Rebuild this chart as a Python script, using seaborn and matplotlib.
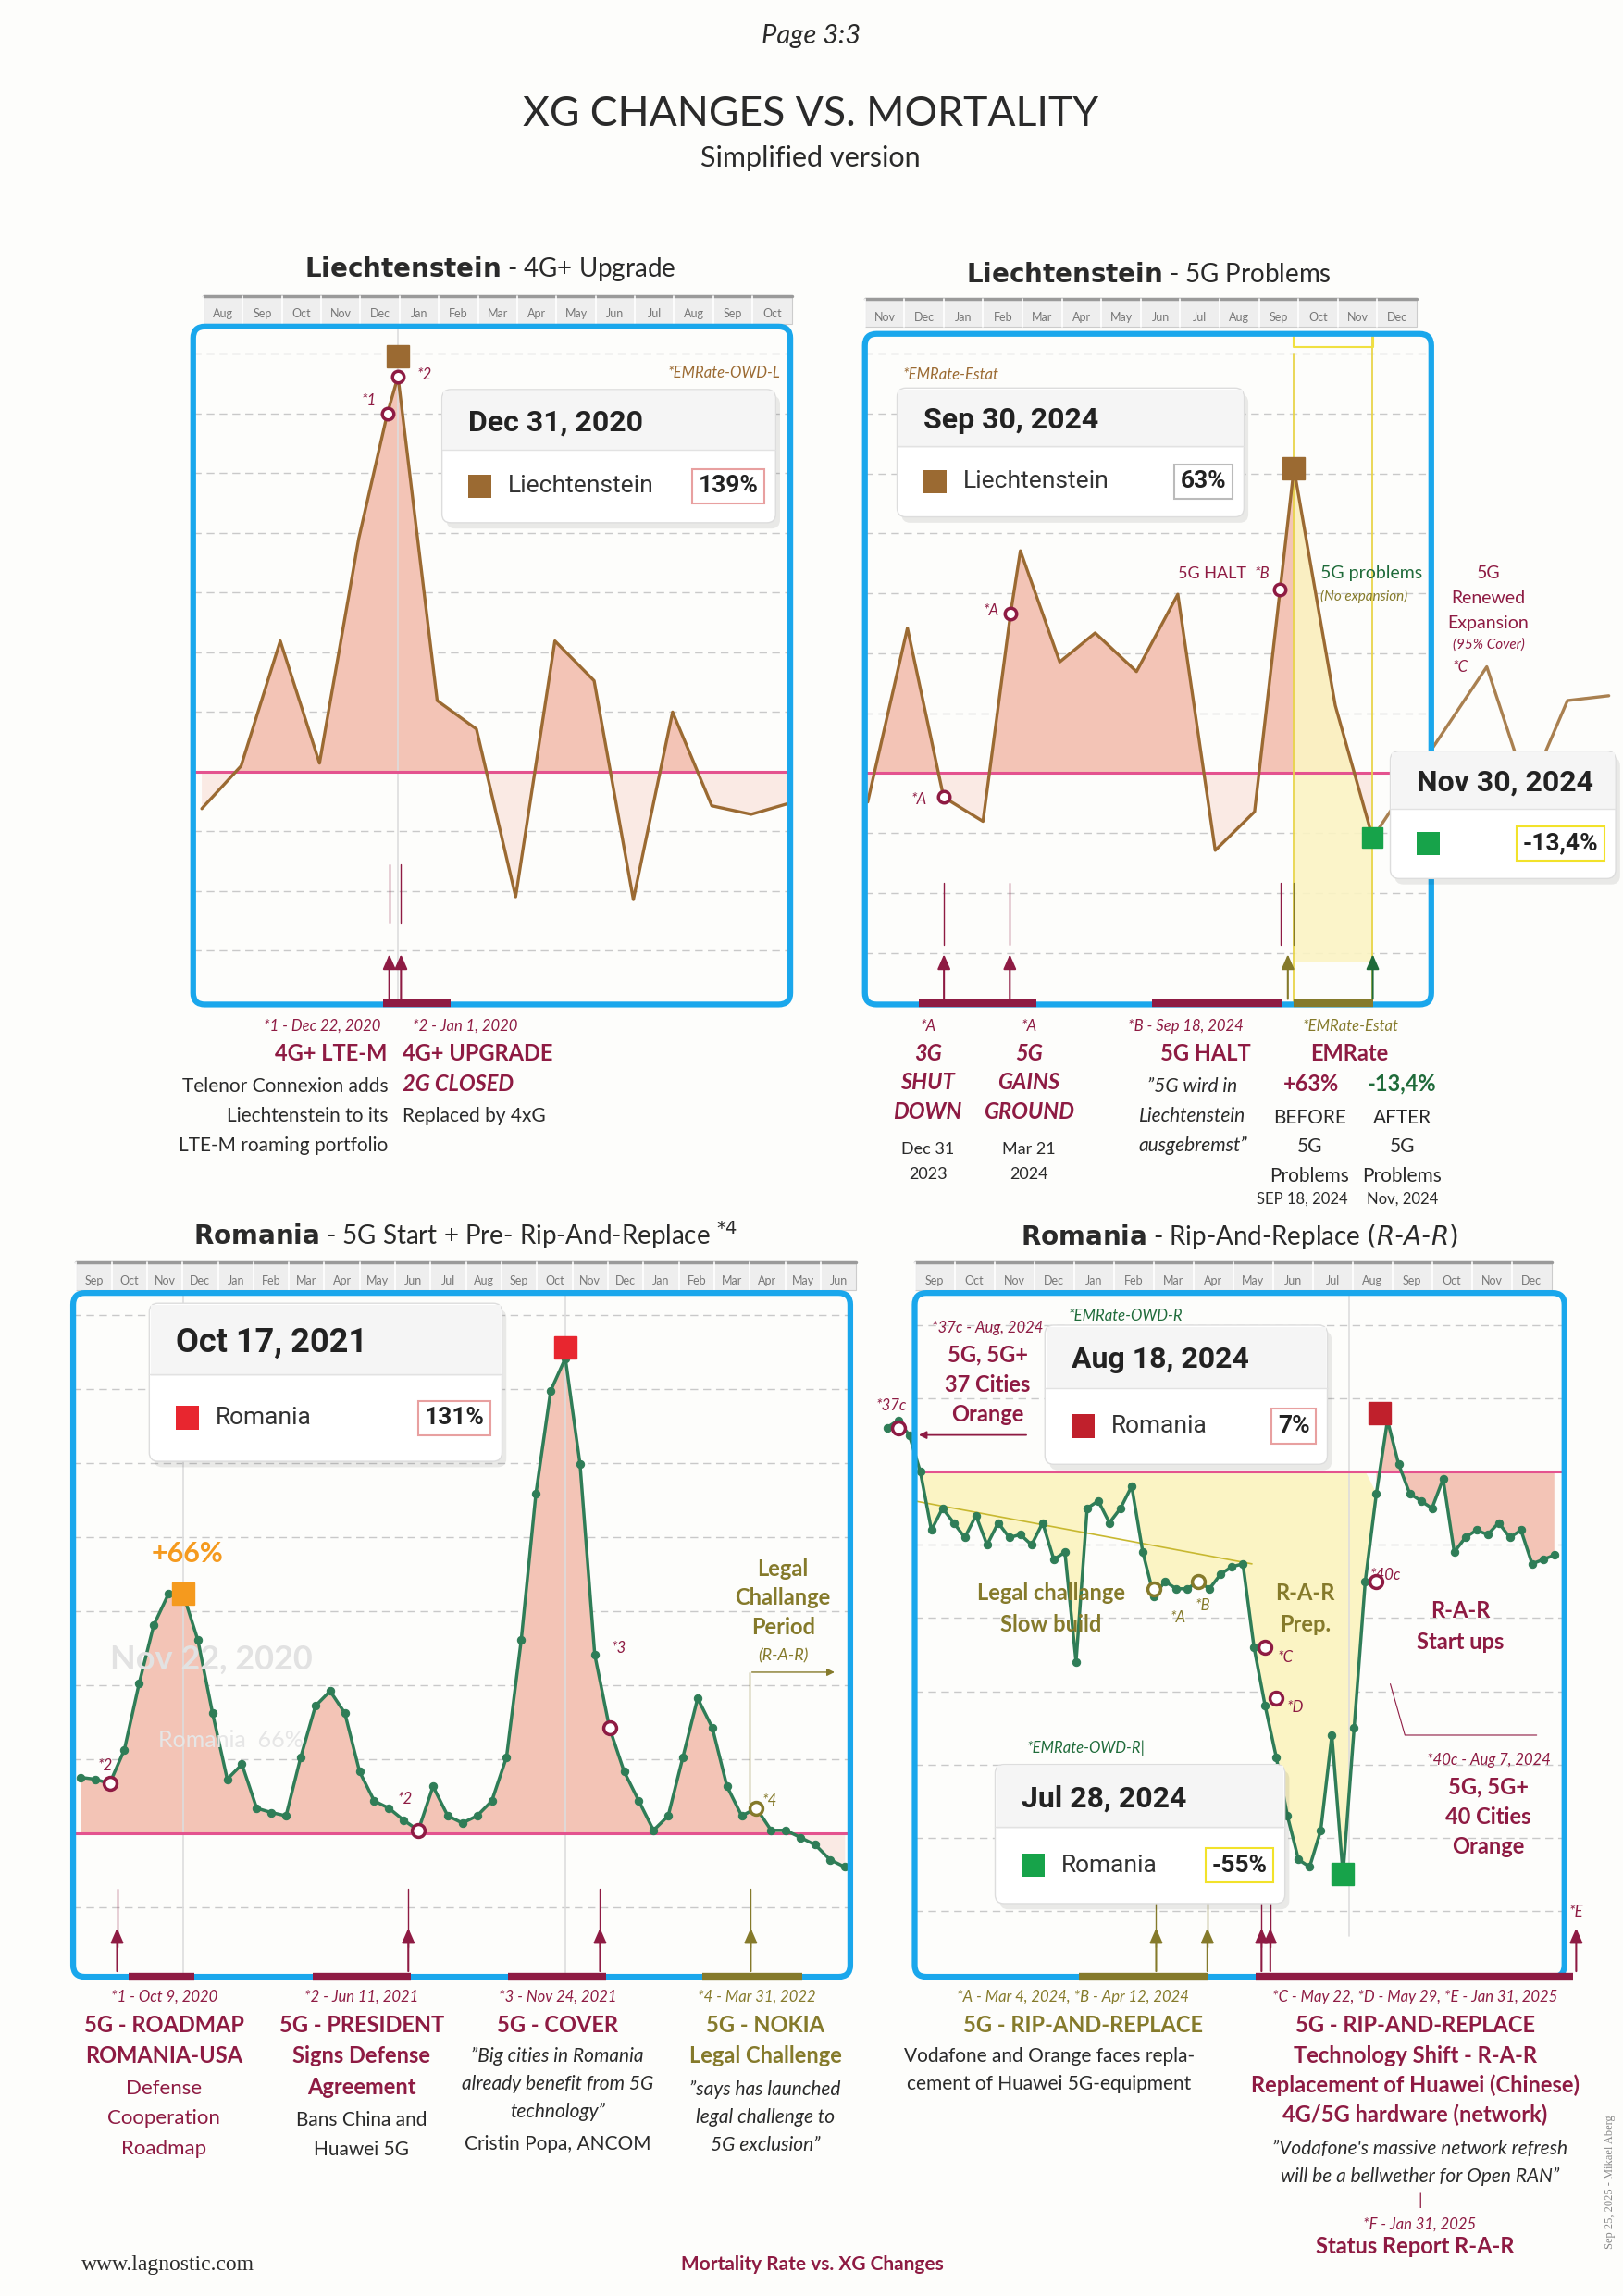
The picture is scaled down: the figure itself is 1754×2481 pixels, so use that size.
import numpy as np
import matplotlib.pyplot as plt
import seaborn as sns
from matplotlib.patches import FancyBboxPatch, Rectangle

sns.set_theme(style="white")
plt.rcParams['font.family'] = ['Lato', 'DejaVu Sans']

# ---------------- data (values in % mortality change) ----------------
months_li1 = ["Aug", "Sep", "Oct", "Nov", "Dec", "Jan", "Feb", "Mar", "Apr", "May", "Jun", "Jul", "Aug", "Sep", "Oct"]
x_li1 = [0, 1, 2, 3, 4, 4.73, 5, 6, 7, 8, 9, 10, 11, 12, 13, 14, 15]
v_li1 = [-13, 2, 46, 3, 82, 126, 139, 25, 15, -44, 46, 32, -45, 21, -12, -15, -11]

months_li2 = ["Nov", "Dec", "Jan", "Feb", "Mar", "Apr", "May", "Jun", "Jul", "Aug", "Sep", "Oct", "Nov", "Dec"]
x_li2 = [0.07, 1.08, 2.0, 3.0, 3.7, 3.95, 4.95, 5.85, 6.9, 7.95, 8.9, 9.9, 10.55, 10.9, 11.95, 12.9,
         15.8, 16.85, 17.85, 18.9]
v_li2 = [-6, 30, -5, -10, 33, 46, 23, 29, 21, 37, -16, -8, 38, 63, 14, -13.4, 22, -4, 15, 16]

months_ro1 = ["Sep", "Oct", "Nov", "Dec", "Jan", "Feb", "Mar", "Apr", "May", "Jun", "Jul", "Aug",
              "Sep", "Oct", "Nov", "Dec", "Jan", "Feb", "Mar", "Apr", "May", "Jun"]
v_ro1 = [15.4, 14.9, 13.7, 23, 41.2, 57.4, 66, 66, 53.3, 33.1, 14.9, 19, 6.9, 5.7, 4.8, 21, 35.1, 39.2,
         33.1, 17, 8.9, 6.9, 3.6, 0.8, 12.9, 4.8, 2.8, 4.8, 8.9, 21, 53.3, 93.7, 122, 131, 101.8, 49.3,
         29.1, 17, 8.9, 0.8, 4.8, 21, 37.2, 29.1, 12.9, 4.8, 6.9, 0.8, 0.8, -1.2, -3.2, -7.3, -9.3]
x_ro1 = np.linspace(0.12, 21.7, len(v_ro1))

months_ro2 = ["Sep", "Oct", "Nov", "Dec", "Jan", "Feb", "Mar", "Apr", "May", "Jun", "Jul", "Aug",
              "Sep", "Oct", "Nov", "Dec"]
v_ro2 = [6, 7, 5, 0, -8, -5, -7, -9, -6, -10, -7, -9, -8.6, -10, -7, -12, -11, -26, -5, -4, -7, -5, -2,
         -11, -17, -15, -16, -16, -15, -16, -14, -13, -12.6, -24, -32, -39, -47, -53, -54, -49, -36, -55,
         -35, -15, -3, 7, 1, -3, -4, -5, -1, -11, -9, -8, -8.6, -7, -9, -8, -12.6, -12, -11.4]
x_ro2 = np.linspace(-0.74, 17.07, len(v_ro2))

# ---------------- colours ----------------
BLUE = "#1aa7ec"
MAROON = "#8e1b43"
OLIVE = "#857a2b"
GREEN_T = "#1f6b3a"
DARK = "#2a2a2a"
BROWN = "#9b6a32"
RGREEN = "#2f7d57"
PINK_FILL = "#f3c4b6"
PINK_LIGHT = "#faeae4"
YEL = "#fbf4c4"
BASE = "#e4538f"

W, H = 1109.0, 1568.0
fig = plt.figure(figsize=(17.54, 24.81), dpi=100)
fig.patch.set_facecolor("#fdfdfb")


def rect(x0, y0, x1, y1):
    return [x0 / W, 1 - y1 / H, (x1 - x0) / W, (y1 - y0) / H]


def panel(box, xlim, ylim, step):
    ax = fig.add_axes(rect(*box))
    ax.set_xlim(*xlim)
    ax.set_ylim(*ylim)
    ax.set_facecolor("none")
    for s in ax.spines.values():
        s.set_visible(False)
    ax.set_xticks([])
    ax.set_yticks([])
    for yy in np.arange(step * np.ceil(ylim[0] / step), ylim[1], step):
        if abs(yy) > 1e-6:
            ax.axhline(yy, color="#c9c9c9", lw=1, ls=(0, (6, 4)), zorder=0)
    ax.axhline(0, color=BASE, lw=2.2, zorder=2)
    return ax


def fills(ax, x, v, pos, neg):
    x = np.asarray(x)
    v = np.asarray(v, dtype=float)
    ax.fill_between(x, v, 0, where=v >= 0, interpolate=True, color=pos, lw=0, zorder=1)
    ax.fill_between(x, v, 0, where=v <= 0, interpolate=True, color=neg, lw=0, zorder=1)


ov = fig.add_axes([0, 0, 1, 1], zorder=10)
ov.set_xlim(0, W)
ov.set_ylim(H, 0)
ov.axis("off")
ov.patch.set_alpha(0)


def T(x, y, s, size=15, color=DARK, weight="normal", style="normal", ha="center", va="baseline", **kw):
    ov.text(x, y, s, fontsize=size, color=color, fontweight=weight, fontstyle=style, ha=ha, va=va,
            linespacing=1.25, **kw)


def box(x0, y0, x1, y1, lw=4.5):
    ov.add_patch(FancyBboxPatch((x0, y0), x1 - x0, y1 - y0, boxstyle="round,pad=0,rounding_size=8",
                                fc="none", ec=BLUE, lw=lw, zorder=5))


def strip(x0, x1, y, labels):
    ov.add_patch(Rectangle((x0, y - 12), x1 - x0, 19, fc="#eeeeee", ec="#cccccc", lw=0.8, zorder=1))
    ov.plot([x0, x1], [y - 12, y - 12], color="#9a9a9a", lw=2.5)
    pos = np.linspace(x0, x1, len(labels) + 1)
    for i, lab in enumerate(labels):
        c = (pos[i] + pos[i + 1]) / 2
        ov.plot([pos[i], pos[i]], [y - 12, y + 7], color="#ffffff", lw=1.2)
        T(c, y + 3, lab, size=9, color="#777777")


def tip(x0, y0, x1, y1, date, name, val, sq, vedge, dsize=23):
    ov.add_patch(FancyBboxPatch((x0 + 3, y0 + 4), x1 - x0, y1 - y0, boxstyle="round,pad=0,rounding_size=6",
                                fc="#000000", alpha=0.08, ec="none", zorder=6))
    ov.add_patch(FancyBboxPatch((x0, y0), x1 - x0, y1 - y0, boxstyle="round,pad=0,rounding_size=6",
                                fc="white", ec="#dddddd", lw=1, zorder=7))
    hh = (y1 - y0) * 0.45
    ov.add_patch(Rectangle((x0 + 1, y0 + 1), x1 - x0 - 2, hh, fc="#f5f5f5", ec="none", zorder=7))
    ov.plot([x0, x1], [y0 + hh, y0 + hh], color="#e2e2e2", lw=1, zorder=8)
    ov.text(x0 + 18, y0 + hh * 0.55, date, fontsize=dsize, fontweight="bold", family=["Roboto", "DejaVu Sans"],
            va="center", color="#222222", zorder=9)
    cy = y0 + hh + (y1 - y0 - hh) / 2
    ov.add_patch(Rectangle((x0 + 18, cy - 8), 16, 16, fc=sq, ec="none", zorder=9))
    ov.text(x0 + 45, cy, name, fontsize=19, family=["Roboto", "DejaVu Sans"], va="center", color="#333333",
            zorder=9)
    if val:
        ov.text(x1 - 12, cy, val, fontsize=19, fontweight="bold", family=["Roboto", "DejaVu Sans"], va="center",
                ha="right", color="#222222", zorder=9,
                bbox=dict(boxstyle="square,pad=0.25", fc="white", ec=vedge, lw=1.5))


def arrow(x, y0, y1, c):
    ov.annotate("", xy=(x, y0), xytext=(x, y1),
                arrowprops=dict(arrowstyle="-|>,head_length=0.8,head_width=0.35", color=c, lw=1.5))


def vline(x, y0, y1, c, lw=1.0):
    ov.plot([x, x], [y0, y1], color=c, lw=lw)


def bar(x0, x1, y, c):
    ov.plot([x0, x1], [y, y], color=c, lw=6, solid_capstyle="butt", zorder=6)


# ---------------- header ----------------
T(554, 30, "Page 3:3", size=21, style="italic")
T(554, 86, "XG CHANGES VS. MORTALITY", size=32)
T(554, 114, "Simplified version", size=22)

# ================= panel 1 =================
ax1 = panel((132, 223, 540, 686), (-0.22, 15.0), (-81.9, 156.6), 21)
fills(ax1, x_li1, v_li1, PINK_FILL, PINK_LIGHT)
ax1.axvline(5, color="#dddddd", lw=1.2, zorder=1)
sns.lineplot(x=x_li1, y=v_li1, ax=ax1, color=BROWN, lw=2.4, zorder=3)
ax1.plot(x_li1[5:7], v_li1[5:7], "o", ms=9, mfc="white", mec=MAROON, mew=2.5, zorder=4)
ax1.plot(x_li1[6], v_li1[6] + 7, "s", ms=17, color=BROWN, zorder=5)
box(132, 223, 540, 686)
strip(139, 541, 214, months_li1)
ov.text(335, 189, r"$\bf{Liechtenstein}$ - 4G+ Upgrade", fontsize=20, ha="center", color=DARK)
T(533, 258, "*EMRate-OWD-L", size=12, color=BROWN, style="italic", ha="right")
T(252, 277, "*1", size=12, color=MAROON, style="italic")
T(290, 259, "*2", size=12, color=MAROON, style="italic")
tip(302, 266, 530, 357, "Dec 31, 2020", "Liechtenstein", "139%", BROWN, "#e8a0a0")
for xx in (266, 274):
    vline(xx, 590, 630, MAROON)
    arrow(xx, 650, 684, MAROON)
bar(262, 308, 685, MAROON)
T(220, 704, "*1 - Dec 22, 2020", size=12, color=MAROON, style="italic")
T(318, 704, "*2 - Jan 1, 2020", size=12, color=MAROON, style="italic")
T(226, 724, "4G+ LTE-M", size=17, color=MAROON, weight="bold")
T(275, 724, "4G+ UPGRADE", size=17, color=MAROON, weight="bold", ha="left")
T(265, 746, "Telenor Connexion adds", size=15, ha="right")
T(265, 766, "Liechtenstein to its", size=15, ha="right")
T(265, 786, "LTE-M roaming portfolio", size=15, ha="right")
T(275, 745, "2G CLOSED", size=17, color=MAROON, weight="bold", style="italic", ha="left")
T(275, 766, "Replaced by 4xG", size=15, ha="left")

# ================= panel 2 =================
ax2 = panel((591, 228, 978, 686), (0, 14.39), (-47.9, 90.9), 12.4)
fills(ax2, x_li2[:16], v_li2[:16], PINK_FILL, PINK_LIGHT)
xs = np.array(x_li2[13:16])
vs = np.array(v_li2[13:16])
ax2.fill_between(xs, vs, -39, color=YEL, alpha=0.9, lw=0, zorder=1)
ax2.axvline(x_li2[13], color="#e8d54a", lw=1.3, ymax=0.97, zorder=2)
ax2.axvline(x_li2[15], color="#e8d54a", lw=1.3, zorder=2)
sns.lineplot(x=x_li2[:16], y=v_li2[:16], ax=ax2, color=BROWN, lw=2.4, zorder=3)
ax2.plot(x_li2[15:], v_li2[15:], color=BROWN, lw=2.4, alpha=0.85, clip_on=False, zorder=3)
ax2.plot([x_li2[2], x_li2[4], x_li2[12]], [v_li2[2], v_li2[4], v_li2[12]], "o", ms=9, mfc="white",
         mec=MAROON, mew=2.5, zorder=4)
ax2.plot(x_li2[13], v_li2[13], "s", ms=17, color=BROWN, zorder=5)
ax2.plot(x_li2[15], v_li2[15], "s", ms=16, color="#17a34a", zorder=5, clip_on=False)
box(591, 228, 978, 686)
strip(591, 968, 216, months_li2)
ov.plot([884, 884, 938, 938], [230, 237, 237, 230], color="#f0e040", lw=1.5)
ov.text(785, 193, r"$\bf{Liechtenstein}$ - 5G Problems", fontsize=20, ha="center", color=DARK)
T(617, 259, "*EMRate-Estat", size=12, color=BROWN, style="italic", ha="left")
tip(613, 265, 850, 353, "Sep 30, 2024", "Liechtenstein", "63%", BROWN, "#bbbbbb")
T(677, 420, "*A", size=12, color=MAROON, style="italic")
T(628, 549, "*A", size=12, color=MAROON, style="italic")
T(805, 395, "5G HALT", size=13, color=MAROON, ha="left")
T(857, 395, "*B", size=12, color=MAROON, style="italic", ha="left")
T(902, 395, "5G problems", size=14, color=GREEN_T, ha="left")
T(902, 410, "(No expansion)", size=11, color=OLIVE, style="italic", ha="left")
T(1017, 395, "5G", size=14, color=MAROON)
T(1017, 412, "Renewed", size=14, color=MAROON)
T(1017, 429, "Expansion", size=14, color=MAROON)
T(1017, 443, "(95% Cover)", size=11, color=MAROON, style="italic")
T(998, 459, "*C", size=12, color=MAROON, style="italic")
tip(950, 513, 1104, 600, "Nov 30, 2024", "", "-13,4%", "#17a34a", "#f2e22a")
for xx in (645, 690, 875, 884):
    vline(xx, 603, 645, MAROON if xx < 880 else OLIVE)
arrow(645, 650, 684, MAROON)
arrow(690, 650, 684, MAROON)
arrow(880, 650, 684, OLIVE)
arrow(938, 650, 684, GREEN_T)
bar(628, 708, 685, MAROON)
bar(787, 876, 685, MAROON)
bar(884, 938, 685, OLIVE)
for xx, a, b, c, d in ((634, "3G", "SHUT", "DOWN", ("Dec 31", "2023")), (703, "5G", "GAINS", "GROUND", ("Mar 21", "2024"))):
    T(xx, 704, "*A", size=12, color=MAROON, style="italic")
    T(xx, 724, a, size=17, color=MAROON, weight="bold", style="italic")
    T(xx, 744, b, size=17, color=MAROON, weight="bold", style="italic")
    T(xx, 764, c, size=17, color=MAROON, weight="bold", style="italic")
    T(xx, 788, d[0], size=13)
    T(xx, 805, d[1], size=13)
T(810, 704, "*B - Sep 18, 2024", size=12, color=MAROON, style="italic")
T(824, 724, "5G HALT", size=17, color=MAROON, weight="bold")
T(815, 746, "\u201d5G wird in", size=15, style="italic")
T(815, 766, "Liechtenstein", size=15, style="italic")
T(815, 786, "ausgebremst\u201d", size=15, style="italic")
T(923, 704, "*EMRate-Estat", size=12, color=OLIVE, style="italic")
T(922, 724, "EMRate", size=17, color=MAROON, weight="bold")
T(896, 745, "+63%", size=17, color=MAROON, weight="bold")
T(958, 745, "-13,4%", size=17, color=GREEN_T, weight="bold")
for xx, w in ((895, "BEFORE"), (958, "AFTER")):
    T(xx, 767, w, size=15)
    T(xx, 787, "5G", size=15)
    T(xx, 807, "Problems", size=15)
T(890, 822, "SEP 18, 2024", size=12)
T(958, 822, "Nov, 2024", size=12)

# ================= panel 3 =================
ax3 = panel((50, 883, 581, 1350), (-0.08, 21.86), (-39.6, 149), 20.4)
fills(ax3, x_ro1, v_ro1, PINK_FILL, PINK_LIGHT)
ax3.axvline(x_ro1[7], color="#dddddd", lw=1.2, zorder=1)
ax3.axvline(x_ro1[33], color="#dddddd", lw=1.2, zorder=1)
sns.lineplot(x=x_ro1, y=v_ro1, ax=ax3, color=RGREEN, lw=2.5, marker="o", ms=6, mec=RGREEN, zorder=3)
for i in (2, 23, 36):
    ax3.plot(x_ro1[i], v_ro1[i], "o", ms=10, mfc="white", mec=MAROON, mew=2.5, zorder=4)
ax3.plot(x_ro1[46], v_ro1[46], "o", ms=10, mfc="white", mec=OLIVE, mew=2.5, zorder=4)
ax3.plot(x_ro1[7], v_ro1[7], "s", ms=17, color="#f59a1e", zorder=5)
ax3.plot(x_ro1[33], v_ro1[33] + 3, "s", ms=17, color="#e8262f", zorder=5)
box(50, 883, 581, 1350)
strip(52, 585, 874, months_ro1)
ov.text(318, 850, r"$\bf{Romania}$ - 5G Start + Pre- Rip-And-Replace $^{*4}$", fontsize=20, ha="center", color=DARK)
T(123, 902, "*EMRate-OWD-R", size=12, color=GREEN_T, style="italic", ha="left")
tip(102, 890, 343, 998, "Oct 17, 2021", "Romania", "131%", "#e8262f", "#e8a0a0", dsize=26)
T(75, 1140, "Nov 22, 2020", size=26, color="#e2e2e2", ha="left", weight="bold")
T(108, 1193, "Romania  66%", size=18, color="#e6e6e6", ha="left")
T(128, 1067, "+66%", size=22, color="#f59a1e", weight="bold")
T(72, 1209, "*2", size=12, color=MAROON, style="italic")
T(277, 1232, "*2", size=12, color=MAROON, style="italic")
T(423, 1129, "*3", size=12, color=MAROON, style="italic")
T(526, 1233, "*4", size=12, color=OLIVE, style="italic")
for k, s in enumerate(("Legal", "Challange", "Period")):
    T(535, 1076 + 20 * k, s, size=17, color=OLIVE, weight="bold")
T(535, 1134, "(R-A-R)", size=13, color=OLIVE, style="italic")
ov.plot([512, 512], [1232, 1142], color=OLIVE, lw=1)
ov.annotate("", xy=(572, 1142), xytext=(512, 1142), arrowprops=dict(arrowstyle="-|>", color=OLIVE, lw=1))
for xx in (80, 279, 410, 513):
    c = OLIVE if xx == 513 else MAROON
    vline(xx, 1290, 1330, c)
    arrow(xx, 1315, 1348, c)
bar(88, 133, 1350, MAROON)
bar(214, 281, 1350, MAROON)
bar(347, 414, 1350, MAROON)
bar(480, 548, 1350, OLIVE)
T(112, 1367, "*1 - Oct 9, 2020", size=12, color=MAROON, style="italic")
T(247, 1367, "*2 - Jun 11, 2021", size=12, color=MAROON, style="italic")
T(381, 1367, "*3 - Nov 24, 2021", size=12, color=MAROON, style="italic")
T(517, 1367, "*4 - Mar 31, 2022", size=12, color=OLIVE, style="italic")
T(112, 1388, "5G - ROADMAP", size=17, color=MAROON, weight="bold")
T(112, 1409, "ROMANIA-USA", size=17, color=MAROON, weight="bold")
for k, s in enumerate(("Defense", "Cooperation", "Roadmap")):
    T(112, 1430 + 20.5 * k, s, size=16, color=MAROON)
for k, s in enumerate(("5G - PRESIDENT", "Signs Defense", "Agreement")):
    T(247, 1388 + 21 * k, s, size=17, color=MAROON, weight="bold")
T(247, 1452, "Bans China and", size=15)
T(247, 1472, "Huawei 5G", size=15)
T(381, 1388, "5G - COVER", size=17, color=MAROON, weight="bold")
for k, s in enumerate(("\u201dBig cities in Romania", "already benefit from 5G", "technology\u201d")):
    T(381, 1408 + 19 * k, s, size=15, style="italic")
T(381, 1468, "Cristin Popa, ANCOM", size=15)
T(523, 1388, "5G - NOKIA", size=17, color=OLIVE, weight="bold")
T(523, 1409, "Legal Challenge", size=17, color=OLIVE, weight="bold")
for k, s in enumerate(("\u201dsays has launched", "legal challenge to", "5G exclusion\u201d")):
    T(523, 1431 + 19 * k, s, size=15, style="italic")

# ================= panel 4 =================
ax4 = panel((625, 883, 1069, 1350), (0, 17.34), (-69, 24.4), 10)
xa = np.asarray(x_ro2)
va = np.asarray(v_ro2)
left = xa <= 12.2
ax4.fill_between(xa, va, 0, where=left & (va <= 0), interpolate=True, color=YEL, lw=0, zorder=1)
ax4.fill_between(xa, va, 0, where=(~left) | (va >= 0), interpolate=True, color=PINK_FILL, lw=0, zorder=1)
ax4.axvline(11.6, color="#dddddd", lw=1.2, zorder=1, ymin=0.06)
ax4.plot([0, 9.0], [-4, -12.6], color="#c8b830", lw=1.2, zorder=2)
sns.lineplot(x=x_ro2, y=v_ro2, ax=ax4, color=RGREEN, lw=2.5, marker="o", ms=6, mec=RGREEN, zorder=3)
for ln in ax4.lines[-1:]:
    ln.set_clip_on(False)
ax4.plot(x_ro2[1], v_ro2[1] - 1, "o", ms=10, mfc="white", mec=MAROON, mew=2.5, zorder=4, clip_on=False)
ax4.plot([x_ro2[24], x_ro2[28]], [v_ro2[24] + 1, v_ro2[28]], "o", ms=10, mfc="white", mec=OLIVE, mew=2.5, zorder=4)
ax4.plot([x_ro2[34], x_ro2[35], x_ro2[44]], [v_ro2[34] + 8, v_ro2[35] + 8, v_ro2[44] - 12], "o", ms=10,
         mfc="white", mec=MAROON, mew=2.5, zorder=4)
ax4.plot(x_ro2[45] - 0.2, v_ro2[45] + 1, "s", ms=17, color="#c0202c", zorder=5)
ax4.plot(x_ro2[41], v_ro2[41], "s", ms=17, color="#17a34a", zorder=5)
box(625, 883, 1069, 1350)
strip(625, 1060, 874, months_ro2)
ov.text(847, 850, r"$\bf{Romania}$ - Rip-And-Replace $\it{(R}$-$\it{A}$-$\it{R)}$", fontsize=20, ha="center", color=DARK)
T(730, 902, "*EMRate-OWD-R", size=12, color=GREEN_T, style="italic", ha="left")
T(675, 910, "*37c - Aug, 2024", size=12, color=MAROON, style="italic")
for k, s in enumerate(("5G, 5G+", "37 Cities", "Orange")):
    T(675, 930 + 20.5 * k, s, size=17, color=MAROON, weight="bold")
ov.annotate("", xy=(626, 980), xytext=(703, 980), arrowprops=dict(arrowstyle="-|>", color=MAROON, lw=1.3))
T(609, 963, "*37c", size=12, color=MAROON, style="italic")
tip(714, 905, 907, 1000, "Aug 18, 2024", "Romania", "7%", "#c0202c", "#e8a0a0")
T(718, 1093, "Legal challange", size=17, color=OLIVE, weight="bold")
T(718, 1114, "Slow build", size=17, color=OLIVE, weight="bold")
T(805, 1108, "*A", size=12, color=OLIVE, style="italic")
T(822, 1100, "*B", size=12, color=OLIVE, style="italic")
T(892, 1093, "R-A-R", size=17, color=OLIVE, weight="bold")
T(892, 1114, "Prep.", size=17, color=OLIVE, weight="bold")
T(878, 1135, "*C", size=12, color=MAROON, style="italic")
T(885, 1169, "*D", size=12, color=MAROON, style="italic")
T(947, 1079, "*40c", size=12, color=MAROON, style="italic")
T(998, 1105, "R-A-R", size=17, color=MAROON, weight="bold")
T(998, 1126, "Start ups", size=17, color=MAROON, weight="bold")
ov.plot([950, 960, 1050], [1150, 1185, 1185], color=MAROON, lw=0.8)
T(742, 1197, "*EMRate-OWD-R|", size=12, color=GREEN_T, style="italic", ha="center")
tip(680, 1205, 878, 1300, "Jul 28, 2024", "Romania", "-55%", "#17a34a", "#f2e22a")
T(1017, 1205, "*40c - Aug 7, 2024", size=12, color=MAROON, style="italic")
for k, s in enumerate(("5G, 5G+", "40 Cities", "Orange")):
    T(1017, 1225 + 20.5 * k, s, size=17, color=MAROON, weight="bold")
T(1077, 1309, "*E", size=12, color=MAROON, style="italic")
for xx, c in ((790, OLIVE), (825, OLIVE), (862, MAROON), (868, MAROON)):
    vline(xx, 1290, 1330, c)
    arrow(xx, 1315, 1348, c)
arrow(1077, 1315, 1348, MAROON)
bar(737, 826, 1350, OLIVE)
bar(858, 1075, 1350, MAROON)
T(733, 1367, "*A - Mar 4, 2024, *B - Apr 12, 2024", size=12, color=OLIVE, style="italic")
T(740, 1388, "5G - RIP-AND-REPLACE", size=17, color=OLIVE, weight="bold")
T(717, 1408, "Vodafone and Orange faces repla-", size=15)
T(717, 1427, "cement of Huawei 5G-equipment", size=15)
T(967, 1367, "*C - May 22, *D - May 29, *E - Jan 31, 2025", size=12, color=MAROON, style="italic")
for k, s in enumerate(("5G - RIP-AND-REPLACE", "Technology Shift - R-A-R",
                       "Replacement of Huawei (Chinese)", "4G/5G hardware (network)")):
    T(967, 1388 + 20.5 * k, s, size=17, color=MAROON, weight="bold")
T(970, 1471, "\u201dVodafone's massive network refresh", size=15, style="italic")
T(970, 1490, "will be a bellwether for Open RAN\u201d", size=15, style="italic")
T(970, 1506, "|", size=13, color=MAROON)
T(970, 1522, "*F - Jan 31, 2025", size=12, color=MAROON, style="italic")
T(967, 1539, "Status Report R-A-R", size=17, color=MAROON, weight="bold")

# ---------------- footer ----------------
ov.text(115, 1550, "www.lagnostic.com", fontsize=17, family=["Liberation Serif", "DejaVu Serif"],
        ha="center", color=DARK)
T(555, 1550, "Mortality Rate vs. XG Changes", size=15, color=MAROON, weight="bold")
ov.text(1100, 1490, "Sep 25, 2025 - Mikael Aberg", fontsize=9, rotation=90, color="#888888",
        ha="center", va="center", family=["Liberation Serif", "DejaVu Serif"])

fig.savefig("out.png", dpi=100, facecolor=fig.get_facecolor())
